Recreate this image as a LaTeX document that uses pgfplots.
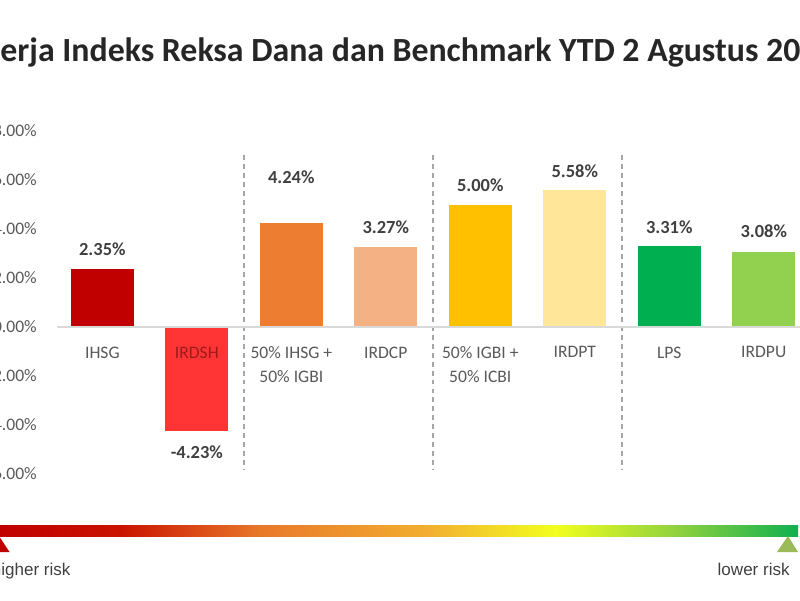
\documentclass[border=0pt]{standalone}
\usepackage{fontspec}
\setmainfont{Carlito}
\newfontfamily\riskfont{Liberation Sans}
\usepackage{graphicx}
\usepackage{pgfplots}
\pgfplotsset{compat=1.18}
\definecolor{ihsg}{HTML}{C00000}
\definecolor{irdsh}{HTML}{FF3535}
\definecolor{mixa}{HTML}{ED7D31}
\definecolor{irdcp}{HTML}{F4B183}
\definecolor{mixb}{HTML}{FFC000}
\definecolor{irdpt}{HTML}{FFE699}
\definecolor{lps}{HTML}{00B050}
\definecolor{irdpu}{HTML}{92D050}
\definecolor{txt}{HTML}{595959}
\definecolor{val}{HTML}{404040}
\definecolor{ttl}{HTML}{262626}
\definecolor{zero}{HTML}{D9D9D9}
\definecolor{sep}{HTML}{A6A6A6}
\definecolor{irdshlab}{HTML}{9E1B1B}
\definecolor{lowgreen}{HTML}{9BBB59}
\pgfplotsset{
  /pgf/number format/assume math mode=true,
  bar/.style={ybar, bar shift=0pt, bar width=0.667, draw=none, fill=#1,
    nodes near coords={\pgfmathprintnumber[fixed,fixed zerofill,precision=2]{\pgfplotspointmeta}\%}},
  lab/.style={every node near coord/.append style={anchor=center, text=val,
    font=\fontsize{10.5}{12}\selectfont\bfseries, yshift=#1}},
}
\begin{document}
\begin{tikzpicture}
\useasboundingbox (0,0) rectangle (16,12);
\clip (0,0) rectangle (16,12);
% title, cut at both sides as in the reference
\node[anchor=base west, inner sep=0, text=ttl] at (0,10.76)
  {\resizebox{16cm}{!}{\bfseries\llap{Kin}erja Indeks Reksa Dana dan Benchmark YTD 2 Agustus 20\rlap{19}}};
\begin{axis}[
  at={(1.14cm,2.52cm)}, anchor=south west, scale only axis,
  width=15.08cm, height=6.86cm,
  xmin=-0.48, xmax=7.5, ymin=-6, ymax=8,
  axis on top,
  axis x line*=middle, axis y line*=left,
  y axis line style={draw=none},
  x axis line style={draw=zero, line width=0.8pt},
  major tick length=0pt,
  xtick={0,...,7},
  xticklabels={IHSG, \textcolor{irdshlab}{IRDSH}, {50\% IHSG +\\50\% IGBI}, IRDCP,
               {50\% IGBI +\\50\% ICBI}, IRDPT, LPS, IRDPU},
  xticklabel style={font=\fontsize{10}{13.6}\selectfont, text=txt, align=center,
                    anchor=north, yshift=-0.27cm},
  ytick={-6,-4,...,8},
  yticklabel={\pgfmathprintnumber[fixed,fixed zerofill,precision=2]{\tick}\%},
  yticklabel style={font=\fontsize{10}{12}\selectfont, text=txt, anchor=east, xshift=-0.28cm},
  clip=false,
]
\draw[sep, line width=1.1pt, dash pattern=on 2.8pt off 2.3pt] (axis cs:1.5,7.0) -- (axis cs:1.5,-5.85);
\draw[sep, line width=1.1pt, dash pattern=on 2.8pt off 2.3pt] (axis cs:3.5,7.0) -- (axis cs:3.5,-5.85);
\draw[sep, line width=1.1pt, dash pattern=on 2.8pt off 2.3pt] (axis cs:5.5,7.0) -- (axis cs:5.5,-5.85);
\addplot[bar=ihsg,  lab=0.4cm]   coordinates {(0,2.35)};
\addplot[bar=irdsh, lab=-0.43cm] coordinates {(1,-4.23)};
\addplot[bar=mixa,  lab=0.92cm]  coordinates {(2,4.24)};
\addplot[bar=irdcp, lab=0.4cm]   coordinates {(3,3.27)};
\addplot[bar=mixb,  lab=0.39cm]  coordinates {(4,5.00)};
\addplot[bar=irdpt, lab=0.38cm]  coordinates {(5,5.58)};
\addplot[bar=lps,   lab=0.38cm]  coordinates {(6,3.31)};
\addplot[bar=irdpu, lab=0.41cm]  coordinates {(7,3.08)};
\end{axis}
% risk scale
\shade[left color=ihsg, right color=ihsg!85!orange] (-0.1,1.28) rectangle (2.4,1.5);
\shade[left color=ihsg!85!orange, right color={rgb,255:red,232;green,120;blue,42}] (2.4,1.28) rectangle (5.2,1.5);
\shade[left color={rgb,255:red,232;green,120;blue,42}, right color={rgb,255:red,242;green,176;blue,48}] (5.2,1.28) rectangle (8.6,1.5);
\shade[left color={rgb,255:red,242;green,176;blue,48}, right color={rgb,255:red,242;green,255;blue,30}] (8.6,1.28) rectangle (11.1,1.5);
\shade[left color={rgb,255:red,242;green,255;blue,30}, right color={rgb,255:red,140;green,208;blue,64}] (11.1,1.28) rectangle (13.6,1.5);
\shade[left color={rgb,255:red,140;green,208;blue,64}, right color={rgb,255:red,16;green,176;blue,80}] (13.6,1.28) rectangle (15.96,1.5);
\fill[ihsg] (-0.02,1.28) -- (-0.23,0.96) -- (0.19,0.96) -- cycle;
\fill[lowgreen] (15.76,1.28) -- (15.54,0.96) -- (15.96,0.96) -- cycle;
\node[anchor=base west, inner sep=0, text=val, font=\riskfont\fontsize{9.7}{11}\selectfont] at (0.02,0.5) {\llap{h}igher risk};
\node[anchor=base east, inner sep=0, text=val, font=\riskfont\fontsize{9.7}{11}\selectfont] at (15.8,0.5) {lower risk};
\end{tikzpicture}
\end{document}
